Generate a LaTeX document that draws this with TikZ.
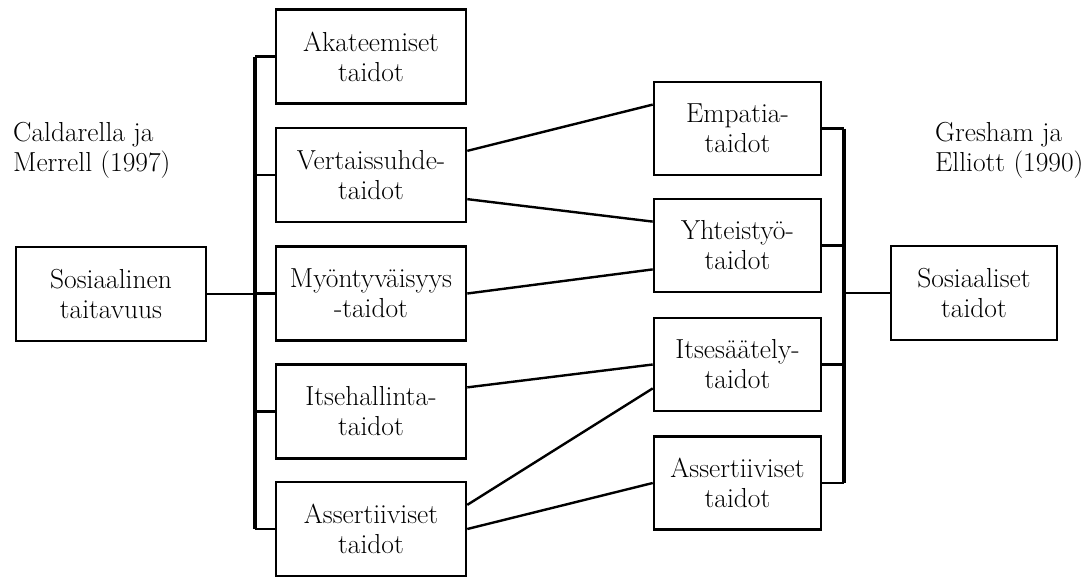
\documentclass[tikz,border=0pt]{standalone}
\usepackage{fontspec}
\usepackage{tikz}
\usetikzlibrary{calc}

\begin{document}
\begin{tikzpicture}[x=1pt,y=-1pt,
    laatikko/.style={draw, line width=2.6pt, inner sep=0pt, align=center,
      minimum width=190pt, minimum height=94pt, font=\fontsize{27.5}{30}\selectfont},
    kapea/.style={laatikko, minimum width=167pt, minimum height=93pt},
    kisko/.style={line width=4.5pt},
    yhteys/.style={line width=2.4pt},
    lahde/.style={anchor=west, align=left, inner sep=0pt, font=\fontsize{27.5}{30}\selectfont}]
    \useasboundingbox (0,0) rectangle (1090,576);
    % Lähteet
    \node[lahde] (caldarella) at (13,150) {Caldarella ja\\Merrell (1997)};
    \node[lahde] (gresham) at (935,150) {Gresham ja\\Elliott (1990)};
    % Vasen puoli
    \node[laatikko] (sosiaalinen) at (111,294) {Sosiaalinen\\taitavuus};
    \node[laatikko] (akat) at (371,56.5) {Akateemiset\\taidot};
    \node[laatikko] (vert) at (371,175) {Vertaissuhde-\\taidot};
    \node[laatikko] (myont) at (371,293.5) {Myöntyväisyys\\-taidot};
    \node[laatikko] (itseh) at (371,411.5) {Itsehallinta-\\taidot};
    \node[laatikko] (assL) at (371,529) {Assertiiviset\\taidot};
    % Oikea puoli
    \node[kapea] (empat) at (737.5,128.5) {Empatia-\\taidot};
    \node[kapea] (yhteis) at (737.5,245.5) {Yhteistyö-\\taidot};
    \node[kapea] (itses) at (737.5,364.5) {Itsesäätely-\\taidot};
    \node[kapea] (assR) at (737.5,483) {Assertiiviset\\taidot};
    \node[laatikko, minimum width=166pt] (sosiaaliset) at (974,293) {Sosiaaliset\\taidot};
    % Kiskot
    \coordinate (kiskoL) at (255,0);
    \coordinate (kiskoR) at (844,0);
    \draw[kisko] (akat.west -| kiskoL) -- (assL.west -| kiskoL);
    \draw[kisko] (empat.east -| kiskoR) -- (assR.east -| kiskoR);
    \foreach \n in {akat,vert,myont,itseh,assL}
      \draw[yhteys] (\n.west) -- (\n.west -| kiskoL);
    \foreach \n in {empat,yhteis,itses,assR}
      \draw[yhteys] (\n.east) -- (\n.east -| kiskoR);
    \draw[yhteys] (sosiaalinen.east) -- (sosiaalinen.east -| kiskoL);
    \draw[yhteys] (sosiaaliset.west) -- (sosiaaliset.west -| kiskoR);
    % Yhteydet
    \draw[yhteys] ($(vert.north east)!.25!(vert.south east)$) -- ($(empat.north west)!.25!(empat.south west)$);
    \draw[yhteys] ($(vert.north east)!.75!(vert.south east)$) -- ($(yhteis.north west)!.25!(yhteis.south west)$);
    \draw[yhteys] (myont.east) -- ($(yhteis.north west)!.75!(yhteis.south west)$);
    \draw[yhteys] ($(itseh.north east)!.25!(itseh.south east)$) -- (itses.west);
    \draw[yhteys] ($(assL.north east)!.25!(assL.south east)$) -- ($(itses.north west)!.75!(itses.south west)$);
    \draw[yhteys] (assL.east) -- (assR.west);
\end{tikzpicture}
\end{document}
